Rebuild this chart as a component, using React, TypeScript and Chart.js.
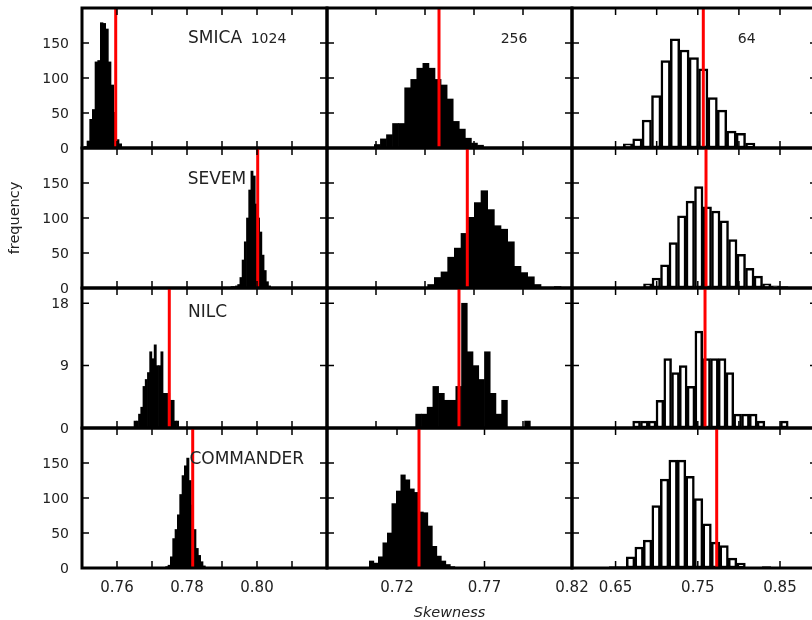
import React, { useEffect, useRef } from 'react';
import { Chart, registerables } from 'chart.js';

Chart.register(...registerables);

// ---------------- data ----------------
const methods = ['SMICA', 'SEVEM', 'NILC', 'COMMANDER'];
const resolutions = ['1024', '256', '64'];
const xAxisTitle = 'Skewness';
const yAxisTitle = 'frequency';

// histogram counts, one array per panel (row = method, column = resolution)
const smica1024Counts = [2, 10, 41, 55, 123, 125, 179, 178, 170, 123, 90, 51, 12, 6];
const smica256Counts = [5, 13, 19, 35, 35, 86, 98, 114, 121, 114, 98, 90, 70, 38, 27, 14, 7, 4];
const smica64Counts = [1, 0, 6, 13, 40, 75, 125, 156, 140, 129, 113, 72, 54, 24, 21, 7];

const sevem1024Counts = [1, 1, 2, 2, 3, 5, 15, 40, 66, 100, 140, 167, 160, 120, 100, 80, 47, 25, 9, 3, 1];
const sevem256Counts = [5, 15, 23, 44, 57, 78, 101, 122, 139, 112, 89, 84, 66, 31, 22, 16, 5, 1, 0, 2];
const sevem64Counts = [1, 1, 6, 14, 33, 65, 103, 124, 145, 116, 110, 96, 69, 48, 28, 17, 6, 3, 2, 1];

const nilc1024Counts = [1, 1, 2, 3, 6, 7, 8, 11, 10, 12, 9, 9, 11, 5, 5, 5, 4, 4, 1, 1];
const nilc256Counts = [2, 2, 3, 6, 5, 4, 4, 6, 18, 11, 9, 7, 11, 5, 2, 4, 0, 0, 0, 1];
const nilc64Counts = [1, 1, 1, 4, 10, 8, 9, 6, 14, 10, 10, 10, 8, 2, 2, 2, 1, 0, 0, 1];

const commander1024Counts = [1, 1, 2, 4, 16, 42, 55, 76, 105, 132, 146, 157, 125, 90, 55, 28, 18, 9, 3, 1];
const commander256Counts = [10, 7, 16, 36, 50, 92, 110, 133, 126, 113, 108, 80, 79, 60, 31, 17, 10, 5, 2, 1];
const commander64Counts = [2, 2, 16, 30, 40, 89, 127, 154, 154, 131, 99, 63, 37, 32, 14, 7, 1, 1, 2, 1];

// left edge of first bin and bin width, per panel
const binStarts = [
  [0.75067, 0.6483, 0.6365],
  [0.79133, 0.70272, 0.6633],
  [0.76486, 0.69048, 0.6708],
  [0.77257, 0.70419, 0.6424],
];
const binWidths = [
  [0.000762, 0.00619, 0.01144],
  [0.000629, 0.006803, 0.01034],
  [0.000638, 0.00585, 0.00946],
  [0.000667, 0.002571, 0.01034],
];
// observed skewness (red lines)
const observed = [
  [0.75963, 0.71429, 0.7567],
  [0.8002, 0.74316, 0.76],
  [0.77494, 0.73469, 0.7588],
  [0.78163, 0.73257, 0.773],
];

// axes
const col1Range = [0.75, 0.82];
const col1Ticks = [0.76, 0.77, 0.78, 0.79, 0.8, 0.81];
const col1TickLabels = ['0.76', '', '0.78', '', '0.80', ''];
const col2Range = [0.6, 0.85];
const col2Ticks = [0.65, 0.7, 0.75, 0.8];
const col2BottomRange = [0.68, 0.82];
const col2BottomTicks = [0.72, 0.77, 0.82];
const col2BottomTickLabels = ['0.72', '0.77', '0.82'];
const col3Range = [0.597, 0.895];
const col3Ticks = [0.65, 0.7, 0.75, 0.8, 0.85];
const col3BottomTicks = [0.65, 0.75, 0.85];
const col3BottomTickLabels = ['0.65', '0.75', '0.85'];

const freqMax = [200, 200, 20.2, 200];
const freqTicks = [0, 50, 100, 150];
const nilcFreqTicks = [0, 9, 18];

// text label anchors (data coordinates)
const methodLabelX = [0.7803, 0.7802, 0.7803, 0.7807];
const methodLabelY = [150, 148, 16, 148];
const resolutionLabelX = [0.7982, 0.7772, 0.7986];
const resolutionLabelY = 150;

const countsTable = [
  [smica1024Counts, smica256Counts, smica64Counts],
  [sevem1024Counts, sevem256Counts, sevem64Counts],
  [nilc1024Counts, nilc256Counts, nilc64Counts],
  [commander1024Counts, commander256Counts, commander64Counts],
];

// ---------------- layout ----------------
const colX = [82, 327, 572, 817];
const rowY = [8, 148, 288, 428, 568];
const ML = 82, MT = 8, MR = 26, MB = 56;
const FONT = "'DejaVu Sans', 'Liberation Sans', sans-serif";
const TEXT = '#222';

Chart.defaults.font.family = FONT;

function xSpec(r: number, c: number) {
  const bottom = r === 3;
  if (c === 0) return { range: col1Range, ticks: col1Ticks, labels: bottom ? col1TickLabels : null };
  if (c === 1) {
    if (bottom) return { range: col2BottomRange, ticks: col2BottomTicks, labels: col2BottomTickLabels };
    return { range: col2Range, ticks: col2Ticks, labels: null };
  }
  if (bottom) return { range: col3Range, ticks: col3BottomTicks, labels: col3BottomTickLabels };
  return { range: col3Range, ticks: col3Ticks, labels: null };
}

function makeConfig(r: number, c: number): any {
  const counts = countsTable[r][c];
  const start = binStarts[r][c];
  const w = binWidths[r][c];
  const bars = counts.map((v, i) => ({ x: start + (i + 0.5) * w, y: v }));
  const yMax = freqMax[r];
  const obs = observed[r][c];
  const xs = xSpec(r, c);
  const yTicks = r === 2 ? nilcFreqTicks : freqTicks;
  const outlined = c === 2;

  const labels: { text: string; x: number; y: number; size: number }[] = [];
  if (c === 0) labels.push({ text: methods[r], x: methodLabelX[r], y: methodLabelY[r], size: 17 });
  if (r === 0) labels.push({ text: resolutions[c], x: resolutionLabelX[c], y: resolutionLabelY, size: 14 });

  const decor = {
    id: 'decor' + r + c,
    afterDraw(chart: any) {
      const { ctx, chartArea: a, scales } = chart;
      const sx = scales.x, sy = scales.y;
      ctx.save();
      // labels
      ctx.fillStyle = TEXT;
      ctx.textAlign = 'left';
      ctx.textBaseline = 'alphabetic';
      for (const l of labels) {
        ctx.font = `${l.size}px ${FONT}`;
        ctx.fillText(l.text, sx.getPixelForValue(l.x), sy.getPixelForValue(l.y));
      }
      // inward ticks on all four sides
      const TL = 7;
      ctx.strokeStyle = '#000';
      ctx.lineWidth = 1.5;
      ctx.beginPath();
      for (const t of sx.ticks) {
        const p = sx.getPixelForValue(t.value);
        ctx.moveTo(p, a.bottom); ctx.lineTo(p, a.bottom - TL);
        ctx.moveTo(p, a.top); ctx.lineTo(p, a.top + TL);
      }
      for (const t of sy.ticks) {
        const p = sy.getPixelForValue(t.value);
        ctx.moveTo(a.left, p); ctx.lineTo(a.left + TL, p);
        ctx.moveTo(a.right, p); ctx.lineTo(a.right - TL, p);
      }
      ctx.stroke();
      // frame
      ctx.lineWidth = 3;
      ctx.strokeRect(a.left, a.top, a.right - a.left, a.bottom - a.top);
      ctx.restore();
    },
  };

  return {
    type: 'bar',
    data: {
      datasets: [
        {
          type: 'line',
          data: [{ x: obs, y: 0 }, { x: obs, y: yMax }],
          borderColor: '#ff0000',
          borderWidth: 3,
          pointRadius: 0,
          fill: false,
          order: 0,
        },
        {
          type: 'bar',
          data: bars,
          backgroundColor: outlined ? '#ffffff' : '#000000',
          borderColor: '#000000',
          borderWidth: outlined ? 2.5 : 0,
          borderSkipped: false,
          barPercentage: 1,
          categoryPercentage: 1,
          order: 1,
        },
      ],
    },
    options: {
      animation: false,
      responsive: false,
      events: [],
      layout: { padding: { left: 0, top: MT, right: MR, bottom: 0 } },
      plugins: { legend: { display: false }, tooltip: { enabled: false } },
      scales: {
        x: {
          type: 'linear',
          position: 'bottom',
          min: xs.range[0],
          max: xs.range[1],
          offset: false,
          grid: { display: false, drawTicks: false },
          border: { display: false },
          ticks: {
            display: !!xs.labels,
            autoSkip: false,
            maxRotation: 0,
            minRotation: 0,
            padding: 11,
            color: TEXT,
            font: { size: 15 },
            callback: (_v: any, i: number) => (xs.labels ? xs.labels[i] ?? '' : ''),
          },
          title: r === 3 && c === 1
            ? { display: true, text: xAxisTitle, color: TEXT, font: { size: 14.5, style: 'italic' }, padding: { top: 0, bottom: 2 } }
            : { display: false },
          afterBuildTicks: (s: any) => { s.ticks = xs.ticks.map((v) => ({ value: v })); },
          afterFit: (s: any) => { s.height = MB; s.paddingLeft = 0; s.paddingRight = 0; },
        },
        y: {
          type: 'linear',
          position: 'left',
          min: 0,
          max: yMax,
          grid: { display: false, drawTicks: false },
          border: { display: false },
          ticks: {
            display: c === 0,
            autoSkip: false,
            padding: 13,
            labelOffset: 1,
            color: TEXT,
            font: { size: 14 },
            callback: (v: any) => String(v),
          },
          title: r === 1 && c === 0
            ? { display: true, text: yAxisTitle, color: TEXT, font: { size: 14.5 }, padding: { top: 7, bottom: 0 } }
            : { display: false },
          afterBuildTicks: (s: any) => { s.ticks = yTicks.map((v) => ({ value: v })); },
          afterFit: (s: any) => { s.width = ML; s.paddingTop = 0; s.paddingBottom = 0; },
        },
      },
    },
    plugins: [decor],
  };
}

const cells: { r: number; c: number }[] = [];
for (let r = 0; r < 4; r++) for (let c = 0; c < 3; c++) cells.push({ r, c });

export default function App() {
  const refs = useRef<(HTMLCanvasElement | null)[]>([]);
  useEffect(() => {
    const charts: Chart[] = [];
    cells.forEach(({ r, c }, i) => {
      const el = refs.current[i];
      if (el) charts.push(new Chart(el, makeConfig(r, c)));
    });
    return () => charts.forEach((ch) => ch.destroy());
  }, []);
  return (
    <div style={{ position: 'fixed', left: 0, top: 0, width: 812, height: 620, overflow: 'hidden', background: '#fff' }}>
      {cells.map(({ r, c }, i) => {
        const w = ML + (colX[c + 1] - colX[c]) + MR;
        const h = MT + (rowY[r + 1] - rowY[r]) + MB;
        return (
          <canvas
            key={i}
            ref={(el) => { refs.current[i] = el; }}
            width={w}
            height={h}
            style={{ position: 'absolute', left: colX[c] - ML, top: rowY[r] - MT, width: w, height: h }}
          />
        );
      })}
    </div>
  );
}
